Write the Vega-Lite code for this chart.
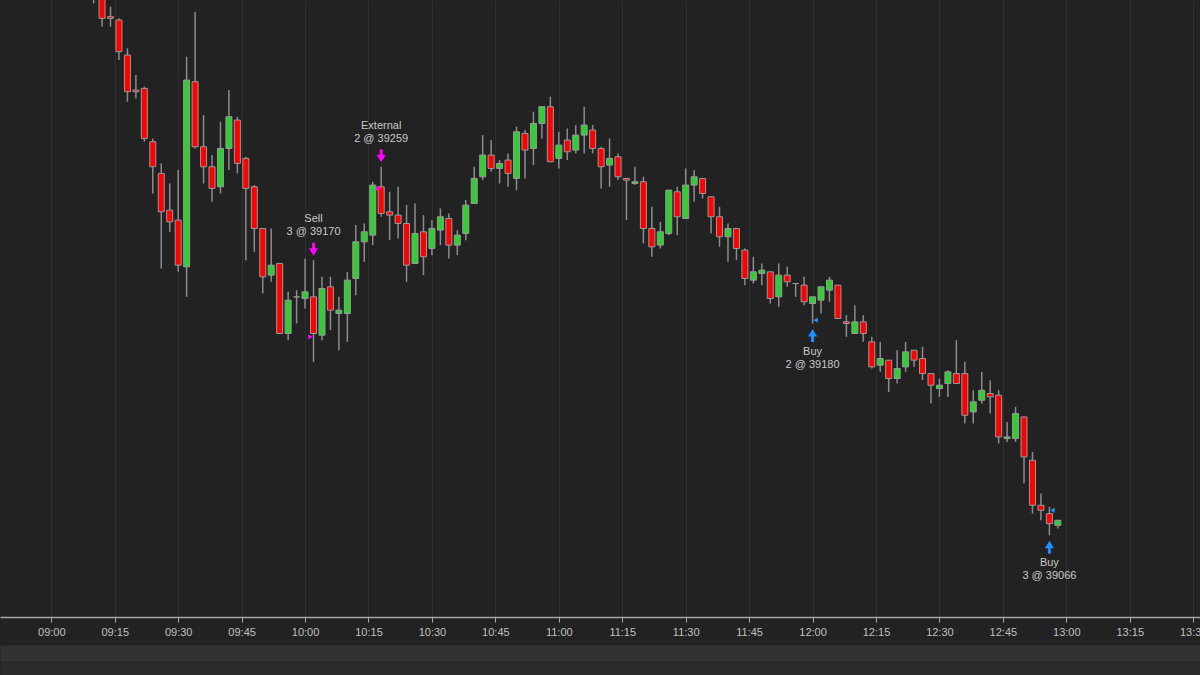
{
  "$schema": "https://vega.github.io/schema/vega-lite/v6.json",
  "background": "#222222",
  "autosize": {"type": "none"},
  "padding": {"left": 0, "top": 0, "right": 0, "bottom": 58},
  "width": 1200,
  "height": 617,
  "config": {"view": {"stroke": null}, "font": "Liberation Sans", "scale": {"continuousPadding": 0}},
  "resolve": {"scale": {"x": "shared", "y": "shared"}, "axis": {"x": "independent"}},
  "datasets": {
    "bars": [
      {"t":550,"o":39387,"h":39390,"l":39370,"c":39373},
      {"t":552,"o":39375,"h":39377,"l":39356,"c":39361},
      {"t":554,"o":39362,"h":39368,"l":39356,"c":39361},
      {"t":556,"o":39360,"h":39361,"l":39336,"c":39341},
      {"t":558,"o":39339,"h":39343,"l":39311,"c":39317},
      {"t":560,"o":39318,"h":39327,"l":39313,"c":39317},
      {"t":562,"o":39319,"h":39320,"l":39287,"c":39289},
      {"t":564,"o":39287,"h":39289,"l":39256,"c":39272},
      {"t":566,"o":39268,"h":39274,"l":39211,"c":39245},
      {"t":568,"o":39246,"h":39262,"l":39233,"c":39239},
      {"t":570,"o":39240,"h":39270,"l":39209,"c":39213},
      {"t":572,"o":39212,"h":39338,"l":39194,"c":39324},
      {"t":574,"o":39323,"h":39365,"l":39283,"c":39284},
      {"t":576,"o":39284,"h":39303,"l":39262,"c":39272},
      {"t":578,"o":39272,"h":39279,"l":39251,"c":39259},
      {"t":580,"o":39260,"h":39299,"l":39256,"c":39283},
      {"t":582,"o":39283,"h":39318,"l":39270,"c":39302},
      {"t":584,"o":39300,"h":39302,"l":39268,"c":39274},
      {"t":586,"o":39277,"h":39278,"l":39216,"c":39259},
      {"t":588,"o":39260,"h":39261,"l":39221,"c":39235},
      {"t":590,"o":39235,"h":39235,"l":39196,"c":39206},
      {"t":592,"o":39207,"h":39235,"l":39203,"c":39213},
      {"t":594,"o":39214,"h":39214,"l":39172,"c":39172},
      {"t":596,"o":39172,"h":39197,"l":39168,"c":39192},
      {"t":598,"o":39194,"h":39198,"l":39178,"c":39194},
      {"t":600,"o":39193,"h":39217,"l":39187,"c":39197},
      {"t":602,"o":39194,"h":39216,"l":39155,"c":39172},
      {"t":604,"o":39171,"h":39206,"l":39168,"c":39199},
      {"t":606,"o":39200,"h":39206,"l":39174,"c":39186},
      {"t":608,"o":39184,"h":39194,"l":39162,"c":39186},
      {"t":610,"o":39184,"h":39209,"l":39167,"c":39204},
      {"t":612,"o":39205,"h":39237,"l":39195,"c":39227},
      {"t":614,"o":39227,"h":39238,"l":39215,"c":39233},
      {"t":616,"o":39231,"h":39263,"l":39225,"c":39261},
      {"t":618,"o":39260,"h":39272,"l":39242,"c":39244},
      {"t":620,"o":39245,"h":39257,"l":39228,"c":39243},
      {"t":622,"o":39243,"h":39260,"l":39229,"c":39238},
      {"t":624,"o":39238,"h":39249,"l":39203,"c":39213},
      {"t":626,"o":39214,"h":39250,"l":39214,"c":39232},
      {"t":628,"o":39233,"h":39243,"l":39207,"c":39218},
      {"t":630,"o":39223,"h":39240,"l":39219,"c":39235},
      {"t":632,"o":39234,"h":39247,"l":39225,"c":39242},
      {"t":634,"o":39241,"h":39244,"l":39217,"c":39225},
      {"t":636,"o":39225,"h":39234,"l":39219,"c":39231},
      {"t":638,"o":39232,"h":39252,"l":39228,"c":39249},
      {"t":640,"o":39250,"h":39272,"l":39250,"c":39265},
      {"t":642,"o":39266,"h":39291,"l":39264,"c":39279},
      {"t":644,"o":39279,"h":39288,"l":39269,"c":39271},
      {"t":646,"o":39271,"h":39276,"l":39262,"c":39274},
      {"t":648,"o":39276,"h":39280,"l":39260,"c":39268},
      {"t":650,"o":39265,"h":39296,"l":39258,"c":39293},
      {"t":652,"o":39292,"h":39294,"l":39265,"c":39282},
      {"t":654,"o":39283,"h":39305,"l":39273,"c":39298},
      {"t":656,"o":39298,"h":39308,"l":39289,"c":39308},
      {"t":658,"o":39308,"h":39314,"l":39275,"c":39275},
      {"t":660,"o":39277,"h":39293,"l":39271,"c":39285},
      {"t":662,"o":39288,"h":39295,"l":39276,"c":39281},
      {"t":664,"o":39282,"h":39297,"l":39280,"c":39291},
      {"t":666,"o":39291,"h":39308,"l":39280,"c":39297},
      {"t":668,"o":39294,"h":39297,"l":39280,"c":39283},
      {"t":670,"o":39283,"h":39284,"l":39259,"c":39272},
      {"t":672,"o":39273,"h":39289,"l":39260,"c":39277},
      {"t":674,"o":39278,"h":39280,"l":39264,"c":39266},
      {"t":676,"o":39265,"h":39265,"l":39240,"c":39264},
      {"t":678,"o":39262,"h":39272,"l":39261,"c":39263},
      {"t":680,"o":39263,"h":39266,"l":39226,"c":39235},
      {"t":682,"o":39235,"h":39248,"l":39218,"c":39224},
      {"t":684,"o":39225,"h":39239,"l":39223,"c":39233},
      {"t":686,"o":39232,"h":39258,"l":39231,"c":39258},
      {"t":688,"o":39257,"h":39260,"l":39231,"c":39242},
      {"t":690,"o":39241,"h":39271,"l":39241,"c":39261},
      {"t":692,"o":39261,"h":39270,"l":39251,"c":39266},
      {"t":694,"o":39265,"h":39265,"l":39253,"c":39256},
      {"t":696,"o":39254,"h":39254,"l":39232,"c":39242},
      {"t":698,"o":39242,"h":39248,"l":39224,"c":39230},
      {"t":700,"o":39230,"h":39238,"l":39215,"c":39235},
      {"t":702,"o":39235,"h":39235,"l":39216,"c":39223},
      {"t":704,"o":39222,"h":39223,"l":39201,"c":39205},
      {"t":706,"o":39204,"h":39218,"l":39202,"c":39209},
      {"t":708,"o":39208,"h":39214,"l":39201,"c":39210},
      {"t":710,"o":39209,"h":39209,"l":39190,"c":39193},
      {"t":712,"o":39194,"h":39214,"l":39188,"c":39207},
      {"t":714,"o":39207,"h":39212,"l":39200,"c":39203},
      {"t":716,"o":39202,"h":39202,"l":39194,"c":39202},
      {"t":718,"o":39201,"h":39206,"l":39189,"c":39191},
      {"t":720,"o":39190,"h":39194,"l":39178,"c":39194},
      {"t":722,"o":39192,"h":39200,"l":39184,"c":39200},
      {"t":724,"o":39198,"h":39206,"l":39191,"c":39204},
      {"t":726,"o":39201,"h":39201,"l":39181,"c":39181},
      {"t":728,"o":39179,"h":39183,"l":39170,"c":39178},
      {"t":730,"o":39172,"h":39189,"l":39172,"c":39179},
      {"t":732,"o":39179,"h":39183,"l":39167,"c":39172},
      {"t":734,"o":39167,"h":39170,"l":39151,"c":39152},
      {"t":736,"o":39153,"h":39167,"l":39149,"c":39157},
      {"t":738,"o":39156,"h":39156,"l":39137,"c":39145},
      {"t":740,"o":39145,"h":39162,"l":39142,"c":39151},
      {"t":742,"o":39152,"h":39167,"l":39149,"c":39161},
      {"t":744,"o":39162,"h":39162,"l":39152,"c":39156},
      {"t":746,"o":39157,"h":39164,"l":39144,"c":39148},
      {"t":748,"o":39148,"h":39148,"l":39130,"c":39141},
      {"t":750,"o":39139,"h":39145,"l":39134,"c":39141},
      {"t":752,"o":39142,"h":39150,"l":39134,"c":39149},
      {"t":754,"o":39148,"h":39168,"l":39142,"c":39142},
      {"t":756,"o":39148,"h":39155,"l":39118,"c":39123},
      {"t":758,"o":39125,"h":39138,"l":39118,"c":39131},
      {"t":760,"o":39132,"h":39149,"l":39130,"c":39138},
      {"t":762,"o":39136,"h":39144,"l":39124,"c":39134},
      {"t":764,"o":39135,"h":39138,"l":39106,"c":39110},
      {"t":766,"o":39109,"h":39119,"l":39107,"c":39110},
      {"t":768,"o":39109,"h":39128,"l":39107,"c":39124},
      {"t":770,"o":39122,"h":39122,"l":39082,"c":39098},
      {"t":772,"o":39096,"h":39101,"l":39064,"c":39069},
      {"t":774,"o":39069,"h":39076,"l":39060,"c":39066},
      {"t":776,"o":39064,"h":39068,"l":39051,"c":39058},
      {"t":778,"o":39057,"h":39060,"l":39055,"c":39060}
    ],
    "trades": [
      {"t":602,"anchor":39216,"fill":39170,"side":"sell","l1":"Sell","l2":"3 @ 39170"},
      {"t":618,"anchor":39272,"fill":39259,"side":"sell","l1":"External","l2":"2 @ 39259"},
      {"t":720,"anchor":39178,"fill":39180,"side":"buy","l1":"Buy","l2":"2 @ 39180"},
      {"t":776,"anchor":39051,"fill":39066,"side":"buy","l1":"Buy","l2":"3 @ 39066"}
    ]
  },
  "encoding": {
    "x": {
      "field": "t", "type": "quantitative",
      "scale": {"domain": [527.87, 811.61], "nice": false, "zero": false, "padding": 0},
      "axis": null
    }
  },
  "layer": [
    {
      "data": {"name": "bars"},
      "mark": {"type": "rule", "color": "#8c8c8c", "strokeWidth": 1.5, "clip": true},
      "encoding": {
        "x": {
          "field": "t", "type": "quantitative",
          "scale": {"domain": [527.87, 811.61], "nice": false, "zero": false, "padding": 0},
          "axis": {
            "orient": "bottom",
            "title": null,
            "values": [525,540,555,570,585,600,615,630,645,660,675,690,705,720,735,750,765,780,795,810],
            "labelExpr": "pad(floor(datum.value/60), 2, '0', 'left') + ':' + pad(datum.value % 60, 2, '0', 'left')",
            "grid": true, "gridColor": "#2f2f2f", "gridWidth": 1,
            "domainColor": "#a8a8a8", "domainWidth": 1.5,
            "tickColor": "#a8a8a8", "tickSize": 5, "tickWidth": 1,
            "labelColor": "#c0c0c0", "labelFontSize": 11, "labelFont": "Liberation Sans",
            "labelPadding": 4, "labelFlush": false, "labelOverlap": false, "labelBound": false
          }
        },
        "y": {
          "field": "l", "type": "quantitative",
          "scale": {"domain": [39002, 39372], "nice": false, "zero": false, "padding": 0},
          "axis": {
            "title": null, "values": [39020,39080,39140,39200,39260,39320],
            "grid": true, "gridColor": "#2f2f2f", "labels": false, "ticks": false, "domain": false
          }
        },
        "y2": {"field": "h"}
      }
    },
    {
      "data": {"name": "bars"},
      "mark": {"type": "bar", "orient": "vertical", "size": 6, "stroke": "#9a9a9a", "strokeWidth": 1, "clip": true},
      "encoding": {
        "x": {
          "field": "t", "type": "quantitative",
          "scale": {"domain": [527.87, 811.61], "nice": false, "zero": false, "padding": 0},
          "axis": {
            "orient": "bottom", "title": null, "offset": 36,
            "labels": false, "ticks": false, "grid": false,
            "domain": true, "domainColor": "#323232", "domainWidth": 16
          }
        },
        "y": {
          "field": "o", "type": "quantitative",
          "scale": {"domain": [39002, 39372], "nice": false, "zero": false, "padding": 0},
          "axis": null
        },
        "y2": {"field": "c"},
        "fill": {"condition": {"test": "datum.c >= datum.o", "value": "#32cd32"}, "value": "#ff0000"}
      }
    },
    {
      "data": {"name": "trades"},
      "transform": [{"filter": "datum.side == 'sell'"}],
      "mark": {"type": "point", "shape": "M-0.23,-1L0.23,-1L0.23,-0.15L0.7,-0.15L0,1L-0.7,-0.15L-0.23,-0.15Z", "size": 169, "filled": true, "fill": "#ff00ff", "opacity": 1, "yOffset": -11},
      "encoding": {
        "x": {
          "field": "t", "type": "quantitative",
          "scale": {"domain": [527.87, 811.61], "nice": false, "zero": false, "padding": 0},
          "axis": {
            "orient": "bottom", "title": null, "offset": 51,
            "labels": false, "ticks": false, "grid": false,
            "domain": true, "domainColor": "#2a2a2a", "domainWidth": 14
          }
        },
        "y": {"field": "anchor", "type": "quantitative", "scale": {"domain": [39002, 39372], "nice": false, "zero": false, "padding": 0}, "axis": null}
      }
    },
    {
      "data": {"name": "trades"},
      "transform": [{"filter": "datum.side == 'sell'"}],
      "mark": {"type": "text", "color": "#c8c8c8", "fontSize": 11, "font": "Liberation Sans", "baseline": "middle", "dy": -41},
      "encoding": {
        "y": {"field": "anchor", "type": "quantitative", "scale": {"domain": [39002, 39372], "nice": false, "zero": false, "padding": 0}, "axis": null},
        "text": {"field": "l1"}
      }
    },
    {
      "data": {"name": "trades"},
      "transform": [{"filter": "datum.side == 'sell'"}],
      "mark": {"type": "text", "color": "#c8c8c8", "fontSize": 11, "font": "Liberation Sans", "baseline": "middle", "dy": -28},
      "encoding": {
        "y": {"field": "anchor", "type": "quantitative", "scale": {"domain": [39002, 39372], "nice": false, "zero": false, "padding": 0}, "axis": null},
        "text": {"field": "l2"}
      }
    },
    {
      "data": {"name": "trades"},
      "transform": [{"filter": "datum.side == 'buy'"}],
      "mark": {"type": "point", "shape": "M-0.23,1L0.23,1L0.23,0.15L0.7,0.15L0,-1L-0.7,0.15L-0.23,0.15Z", "size": 169, "filled": true, "fill": "#1e90ff", "opacity": 1, "yOffset": 12},
      "encoding": {
        "y": {"field": "anchor", "type": "quantitative", "scale": {"domain": [39002, 39372], "nice": false, "zero": false, "padding": 0}, "axis": null}
      }
    },
    {
      "data": {"name": "trades"},
      "transform": [{"filter": "datum.side == 'buy'"}],
      "mark": {"type": "text", "color": "#c8c8c8", "fontSize": 11, "font": "Liberation Sans", "baseline": "middle", "dy": 28},
      "encoding": {
        "y": {"field": "anchor", "type": "quantitative", "scale": {"domain": [39002, 39372], "nice": false, "zero": false, "padding": 0}, "axis": null},
        "text": {"field": "l1"}
      }
    },
    {
      "data": {"name": "trades"},
      "transform": [{"filter": "datum.side == 'buy'"}],
      "mark": {"type": "text", "color": "#c8c8c8", "fontSize": 11, "font": "Liberation Sans", "baseline": "middle", "dy": 41},
      "encoding": {
        "y": {"field": "anchor", "type": "quantitative", "scale": {"domain": [39002, 39372], "nice": false, "zero": false, "padding": 0}, "axis": null},
        "text": {"field": "l2"}
      }
    },
    {
      "data": {"name": "trades"},
      "transform": [{"filter": "datum.side == 'sell'"}],
      "mark": {"type": "point", "shape": "triangle-right", "size": 28, "filled": true, "fill": "#ff00ff", "opacity": 1, "xOffset": -3},
      "encoding": {
        "y": {"field": "fill", "type": "quantitative", "scale": {"domain": [39002, 39372], "nice": false, "zero": false, "padding": 0}, "axis": null}
      }
    },
    {
      "data": {"name": "trades"},
      "transform": [{"filter": "datum.side == 'buy'"}],
      "mark": {"type": "point", "shape": "triangle-left", "size": 28, "filled": true, "fill": "#1e90ff", "opacity": 1, "xOffset": 3},
      "encoding": {
        "y": {"field": "fill", "type": "quantitative", "scale": {"domain": [39002, 39372], "nice": false, "zero": false, "padding": 0}, "axis": null}
      }
    }
  ]
}
